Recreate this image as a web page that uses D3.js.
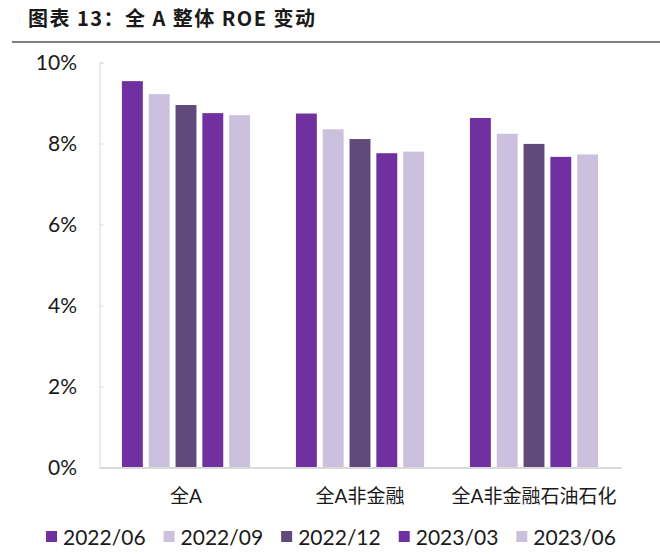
<!DOCTYPE html>
<html>
<head>
<meta charset="utf-8">
<script src="https://cdn.jsdelivr.net/npm/d3@7"></script>
<style>
body { margin:0; background:#fff; }
svg { display:block; }
</style>
</head>
<body>
<svg id="svg" width="660" height="554"></svg>
<script>
// data
var categories = ["全A", "全A非金融", "全A非金融石油石化"];
var periods = ["2022/06", "2022/09", "2022/12", "2023/03", "2023/06"];
var roe_2022_06 = [0.0954, 0.0874, 0.0863];
var roe_2022_09 = [0.0922, 0.0835, 0.0824];
var roe_2022_12 = [0.0895, 0.0811, 0.0799];
var roe_2023_03 = [0.0875, 0.0776, 0.0767];
var roe_2023_06 = [0.0870, 0.0780, 0.0773];
var yTicks = [0, 0.02, 0.04, 0.06, 0.08, 0.10];

var series = [roe_2022_06, roe_2022_09, roe_2022_12, roe_2023_03, roe_2023_06];
var colors = ["#7030a0", "#cbc1de", "#604a7b", "#7030a0", "#cbc1de"];

var font = "Lato, 'Noto Sans CJK SC', sans-serif";
var svg = d3.select("#svg");

// title
svg.append("text")
    .attr("x", 28).attr("y", 26)
    .attr("font-family", "'Noto Sans CJK SC', sans-serif")
    .attr("font-weight", "bold")
    .attr("font-size", "20px")
    .attr("fill", "#1a1a1a")
    .attr("textLength", 287)
    .attr("lengthAdjust", "spacing")
    .text("图表 13：全 A 整体 ROE 变动");

svg.append("line")
    .attr("x1", 12).attr("x2", 660)
    .attr("y1", 42).attr("y2", 42)
    .attr("stroke", "#7f7f7f").attr("stroke-width", 2);

var x0 = d3.scaleBand().domain(categories).range([99, 621]);
var x1 = d3.scaleBand().domain(d3.range(periods.length))
    .range([0, x0.bandwidth()]).paddingInner(0.22).paddingOuter(0.855);
var y = d3.scaleLinear().domain([0, 0.10]).range([467.5, 62.5]);

// bars
series.forEach(function(vals, si) {
    svg.append("g").selectAll("rect")
        .data(vals)
        .enter().append("rect")
        .attr("x", function(d, i) { return x0(categories[i]) + x1(si); })
        .attr("width", x1.bandwidth())
        .attr("y", function(d) { return y(d); })
        .attr("height", function(d) { return y(0) - y(d); })
        .attr("fill", colors[si]);
});

// y axis
var yAxis = svg.append("g")
    .attr("transform", "translate(99.5,0)")
    .call(d3.axisRight(y).tickValues(yTicks).tickSize(4).tickFormat(""));
yAxis.select(".domain").attr("stroke", "#d9d9d9");
yAxis.selectAll(".tick line").attr("stroke", "#d9d9d9");

svg.append("g").selectAll("text")
    .data(yTicks)
    .enter().append("text")
    .attr("x", 77)
    .attr("y", function(d) { return y(d); })
    .attr("dy", "0.35em")
    .attr("text-anchor", "end")
    .attr("font-family", font)
    .attr("font-size", "21px")
    .attr("fill", "#1a1a1a")
    .text(d3.format(".0%"));

// x axis
var xAxis = svg.append("g")
    .attr("transform", "translate(0," + y(0) + ")")
    .call(d3.axisBottom(x0).tickSize(0).tickPadding(0).tickFormat(""));
xAxis.select(".domain").attr("stroke", "#d9d9d9").attr("stroke-width", 2);

svg.append("g").selectAll("text")
    .data(categories)
    .enter().append("text")
    .attr("x", function(d) { return x0(d) + x0.bandwidth() / 2; })
    .attr("y", 503)
    .attr("text-anchor", "middle")
    .attr("font-family", font)
    .attr("font-size", "19px")
    .attr("fill", "#1a1a1a")
    .text(function(d) { return d; });

// legend
var lx = 46;
periods.forEach(function(p, i) {
    var g = svg.append("g");
    g.append("rect")
        .attr("x", lx).attr("y", 531)
        .attr("width", 11).attr("height", 11)
        .attr("fill", colors[i]);
    var t = g.append("text")
        .attr("x", lx + 17).attr("y", 545)
        .attr("font-family", font)
        .attr("font-size", "21px")
        .attr("fill", "#1a1a1a")
        .text(p);
    lx += 17 + t.node().getComputedTextLength() + 18;
});
</script>
</body>
</html>
